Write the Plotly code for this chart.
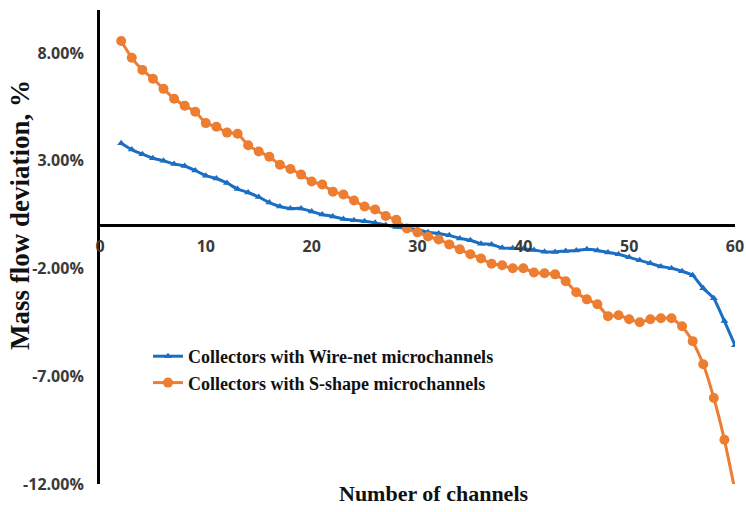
import plotly.graph_objects as go

# channel index
channels = list(range(2, 61))

# mass flow deviation (%)
wire_net = [3.82, 3.52, 3.31, 3.12, 3.00, 2.85, 2.76, 2.55, 2.31, 2.18,
            1.97, 1.69, 1.53, 1.32, 1.06, 0.88, 0.79, 0.79, 0.65, 0.51,
            0.42, 0.30, 0.24, 0.19, 0.12, 0.02, -0.07, -0.14, -0.19, -0.32,
            -0.37, -0.46, -0.60, -0.69, -0.85, -0.88, -1.04, -1.06, -1.08, -1.14,
            -1.22, -1.23, -1.18, -1.16, -1.11, -1.16, -1.25, -1.34, -1.48, -1.62,
            -1.76, -1.90, -1.99, -2.13, -2.31, -2.92, -3.38, -4.44, -5.56]

s_shape = [8.56, 7.78, 7.22, 6.81, 6.34, 5.88, 5.56, 5.28, 4.75, 4.58,
           4.31, 4.26, 3.72, 3.43, 3.19, 2.82, 2.62, 2.36, 2.04, 1.90,
           1.57, 1.44, 1.16, 0.88, 0.74, 0.44, 0.26, -0.14, -0.32, -0.51,
           -0.65, -0.88, -1.11, -1.34, -1.53, -1.78, -1.85, -1.99, -1.99, -2.18,
           -2.22, -2.27, -2.59, -3.10, -3.43, -3.66, -4.21, -4.17, -4.35, -4.49,
           -4.35, -4.31, -4.31, -4.68, -5.37, -6.44, -8.01, -9.95, -12.3]

x_ticks = [0, 10, 20, 30, 40, 50, 60]
y_ticks = [8, 3, -2, -7, -12]
y_ticktext = [f"{v:.2f}%" for v in y_ticks]

blue = "#1B6EC2"
orange = "#ED7D31"

fig = go.Figure()
fig.add_trace(go.Scatter(
    x=channels, y=wire_net, mode="lines+markers",
    name="Collectors with Wire-net microchannels",
    line=dict(color=blue, width=3, shape="spline", smoothing=0.4),
    marker=dict(symbol="triangle-up", size=7, color=blue),
))
fig.add_trace(go.Scatter(
    x=channels, y=s_shape, mode="lines+markers",
    name="Collectors with S-shape microchannels",
    line=dict(color=orange, width=3, shape="spline", smoothing=0.4),
    marker=dict(symbol="circle", size=10, color=orange),
))

tick_font = dict(family="Open Sans", size=16, color="#3a3a3a", weight="bold")

fig.update_xaxes(
    range=[0, 60], tickvals=x_ticks, anchor="free", position=12 / 22,
    showline=True, linecolor="black", linewidth=3, automargin=False,
    showgrid=False, zeroline=False, ticks="", tickfont=tick_font,
    ticklabelstandoff=5,
)
fig.update_yaxes(
    range=[-12, 10], tickvals=y_ticks, ticktext=y_ticktext,
    showline=True, linecolor="black", linewidth=3, automargin=False,
    showgrid=False, zeroline=False, ticks="", tickfont=tick_font,
    ticklabelstandoff=10,
)

fig.add_annotation(
    text="<b>Number of channels</b>", xref="paper", yref="paper",
    x=(433 - 100) / 635, y=-(493 - 484) / 474, xanchor="center", yanchor="middle",
    showarrow=False, font=dict(family="Liberation Serif", size=22, color="#111111"),
)
fig.add_annotation(
    text="<b>Mass flow deviation, %</b>", xref="paper", yref="paper",
    x=-(100 - 20) / 635, y=(484 - 215) / 474, xanchor="center", yanchor="middle",
    textangle=-90, showarrow=False,
    font=dict(family="Liberation Serif", size=27, color="#111111"),
)

fig.update_layout(
    width=746, height=512,
    margin=dict(l=100, r=11, t=10, b=28),
    paper_bgcolor="white", plot_bgcolor="white",
    legend=dict(
        x=(148 - 100) / 635, y=(484 - 338) / 474, xanchor="left", yanchor="top",
        bgcolor="rgba(0,0,0,0)",
        font=dict(family="Liberation Serif", size=18, color="#111111", weight="bold"),
    ),
)

fig.write_html("out.html", config={"displayModeBar": False},
               post_script="document.body.style.margin='0';")
